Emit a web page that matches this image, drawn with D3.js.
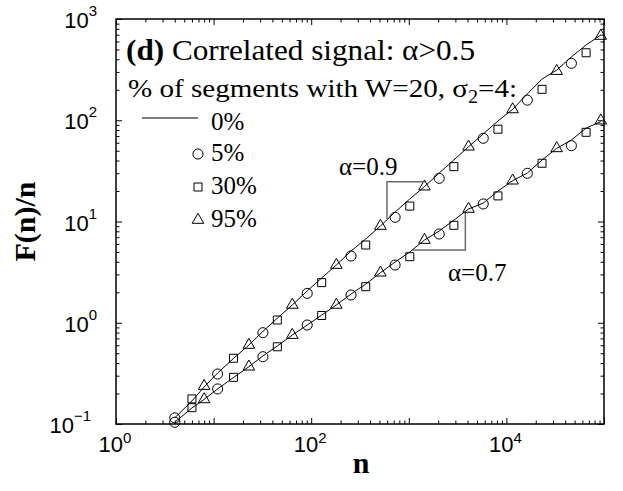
<!DOCTYPE html>
<html>
<head>
<meta charset="utf-8">
<script src="https://cdn.jsdelivr.net/npm/d3@7"></script>
<style>
	body { margin: 0; background: #fff; }
	svg { display: block; }
	.serif { font-family: "Liberation Serif", "Times New Roman", serif; }
	.sans { font-family: "Liberation Sans", Arial, sans-serif; }
</style>
</head>
<body>
<svg id="chart" width="623" height="491"></svg>
<script>
// window sizes n (2^(k/2)), shared by the 0% lines
const N_LINE = [4, 6, 8, 11, 16, 23, 32, 45, 64, 91, 128, 181, 256, 362, 512, 724, 1024, 1448, 2048, 2896, 4096, 5793, 8192, 11585, 16384, 23170, 32768, 46341, 65536, 92682];
// 0% curves
const LINE_09 = [0.115, 0.169, 0.232, 0.319, 0.444, 0.603, 0.82, 1.11, 1.5, 2.06, 2.77, 3.72, 5.11, 6.72, 9.03, 12.4, 16.7, 22.1, 30.1, 40.5, 54.8, 73.2, 98.4, 128, 182, 255, 313, 422, 554, 695];
const LINE_07 = [0.104, 0.144, 0.175, 0.222, 0.288, 0.368, 0.47, 0.589, 0.756, 0.95, 1.19, 1.5, 1.92, 2.41, 3.12, 3.98, 5.0, 6.56, 8.05, 10.3, 13.3, 15.2, 20.0, 25.3, 30.1, 40.5, 52.8, 63.8, 83.7, 96.8];

// 5% (circles)
const N_5 = [4, 11, 32, 91, 256, 724, 2048, 5793, 16384, 46341];
const HI_5 = [0.115, 0.312, 0.798, 1.95, 4.56, 11.0, 26.7, 66.4, 158, 365];
const LO_5 = [0.104, 0.222, 0.462, 0.95, 1.88, 3.72, 7.53, 14.9, 29.9, 56.1];
// 30% (squares)
const N_30 = [6, 16, 45, 128, 362, 1024, 2896, 8192, 23170, 65536];
const HI_30 = [0.177, 0.446, 1.065, 2.49, 5.86, 14.2, 34.8, 81.5, 202, 464];
const LO_30 = [0.145, 0.289, 0.579, 1.18, 2.27, 4.49, 9.17, 17.9, 37.6, 76.0];
// 95% (triangles)
const N_95 = [8, 23, 64, 181, 512, 1448, 4096, 11585, 32768, 92682];
const HI_95 = [0.237, 0.603, 1.5, 3.72, 9.03, 22.1, 54.8, 128, 306, 680];
const LO_95 = [0.175, 0.368, 0.756, 1.5, 3.12, 6.56, 13.3, 25.3, 52.8, 99.1];

const LEGEND = ['0%', '5%', '30%', '95%'];
const X_LABEL_EXP = [0, 2, 4];
const Y_LABEL_EXP = [-1, 0, 1, 2, 3];

// slope guides: [n, F/n] corners
const SLOPE_09 = [[598, 10.6], [598, 24.7], [1476, 24.7]];
const SLOPE_07 = [[1079, 5.22], [3796, 5.22], [3796, 12.1]];

const $svg = d3.select('#chart');
const x = d3.scaleLog().domain([1, 1e5]).range([116, 604]);
const y = d3.scaleLog().domain([0.1, 1000]).range([424, 19]);

const symCircle = d3.symbol(d3.symbolCircle, 80)();
const symSquare = d3.symbol(d3.symbolSquare, 64)();
const symTriangle = d3.symbol(d3.symbolTriangle, 58)();

const majorX = [1, 10, 100, 1e3, 1e4, 1e5];
const majorY = [0.1, 1, 10, 100, 1000];
const isMajor = v => Math.abs(Math.log10(v) - Math.round(Math.log10(v))) < 1e-9;

function drawTicks(axisFn, scale, values, size, pos) {
	const g = $svg.append('g')
		.attr('transform', pos)
		.call(axisFn(scale).tickValues(values).tickSize(size).tickSizeOuter(0).tickFormat(''));
	g.select('.domain').remove();
	g.selectAll('line').attr('stroke', '#000').attr('stroke-width', 1);
}

function renderAxes() {
	const minorX = x.ticks().filter(d => !isMajor(d));
	const minorY = y.ticks().filter(d => !isMajor(d));

	drawTicks(d3.axisBottom, x, majorX, -6, 'translate(0,424)');
	drawTicks(d3.axisBottom, x, minorX, -3.5, 'translate(0,424)');
	drawTicks(d3.axisTop, x, majorX, -6, 'translate(0,19)');
	drawTicks(d3.axisTop, x, minorX, -3.5, 'translate(0,19)');
	drawTicks(d3.axisLeft, y, majorY, -6, 'translate(116,0)');
	drawTicks(d3.axisLeft, y, minorY, -3.5, 'translate(116,0)');
	drawTicks(d3.axisRight, y, majorY, -6, 'translate(604,0)');
	drawTicks(d3.axisRight, y, minorY, -3.5, 'translate(604,0)');

	$svg.append('rect')
		.attr('x', 116).attr('y', 19)
		.attr('width', 488).attr('height', 405)
		.attr('fill', 'none').attr('stroke', '#000').attr('stroke-width', 1.5);

	// tick labels: 10 with superscript
	const fmtExp = e => (e < 0 ? '\u2212' + Math.abs(e) : String(e));

	const $xl = $svg.selectAll('text.xlab').data(X_LABEL_EXP).enter()
		.append('text').attr('class', 'xlab sans')
		.attr('x', e => x(Math.pow(10, e)) - 1)
		.attr('y', 452)
		.attr('text-anchor', 'middle')
		.attr('font-size', 22);
	$xl.append('tspan').text('10');
	$xl.append('tspan').attr('font-size', 15).attr('dy', -9).text(e => fmtExp(e));

	const $yl = $svg.selectAll('text.ylab').data(Y_LABEL_EXP).enter()
		.append('text').attr('class', 'ylab sans')
		.attr('x', e => (e < 0 ? 91 : 97))
		.attr('y', e => y(Math.pow(10, e)) + 9)
		.attr('text-anchor', 'end')
		.attr('font-size', 22);
	$yl.append('tspan').text('10');
	$yl.append('tspan').attr('font-size', 15).attr('dy', -12).text(e => fmtExp(e));

	$svg.append('text').attr('class', 'serif')
		.attr('x', 361).attr('y', 473)
		.attr('text-anchor', 'middle')
		.attr('font-size', 30).attr('font-weight', 'bold')
		.text('n');

	$svg.append('text').attr('class', 'serif')
		.attr('transform', 'translate(35,221.5) rotate(-90)')
		.attr('text-anchor', 'middle')
		.attr('font-size', 30).attr('font-weight', 'bold')
		.text('F(n)/n');
}

function renderCurves() {
	const line = d3.line().x(d => x(d[0])).y(d => y(d[1]));
	[LINE_09, LINE_07].forEach(vals => {
		$svg.append('path')
			.datum(N_LINE.map((n, i) => [n, vals[i]]))
			.attr('d', line)
			.attr('fill', 'none').attr('stroke', '#000').attr('stroke-width', 1);
	});

	const series = [
		{ n: N_5, v: HI_5, sym: symCircle },
		{ n: N_5, v: LO_5, sym: symCircle },
		{ n: N_30, v: HI_30, sym: symSquare },
		{ n: N_30, v: LO_30, sym: symSquare },
		{ n: N_95, v: HI_95, sym: symTriangle },
		{ n: N_95, v: LO_95, sym: symTriangle }
	];
	series.forEach(s => {
		$svg.append('g').selectAll('path')
			.data(s.n.map((n, i) => [n, s.v[i]]))
			.enter().append('path')
			.attr('d', s.sym)
			.attr('transform', d => `translate(${x(d[0])},${y(d[1])})`)
			.attr('fill', 'none').attr('stroke', '#000').attr('stroke-width', 1);
	});

	const guide = d3.line().x(d => x(d[0])).y(d => y(d[1]));
	[SLOPE_09, SLOPE_07].forEach(pts => {
		$svg.append('path')
			.attr('d', guide(pts))
			.attr('fill', 'none').attr('stroke', '#6a6a6a').attr('stroke-width', 1.5);
	});

	$svg.append('text').attr('class', 'serif')
		.attr('x', 339).attr('y', 175).attr('font-size', 25)
		.text('\u03b1=0.9');
	$svg.append('text').attr('class', 'serif')
		.attr('x', 448).attr('y', 281).attr('font-size', 25)
		.text('\u03b1=0.7');
}

function renderLegend() {
	const $t = $svg.append('text').attr('class', 'serif')
		.attr('x', 126).attr('y', 60).attr('font-size', 29)
		.attr('textLength', 349).attr('lengthAdjust', 'spacingAndGlyphs');
	$t.append('tspan').attr('font-weight', 'bold').text('(d)');
	$t.append('tspan').text(' Correlated signal: \u03b1>0.5');

	const $s = $svg.append('text').attr('class', 'serif')
		.attr('x', 128).attr('y', 97).attr('font-size', 26)
		.attr('textLength', 389).attr('lengthAdjust', 'spacingAndGlyphs');
	$s.append('tspan').text('% of segments with W=20, \u03c3');
	$s.append('tspan').attr('font-size', 18).attr('dy', 6).text('2');
	$s.append('tspan').attr('dy', -6).text('=4:');

	const rowsY = [130, 161, 194, 227];
	const syms = [null, symCircle, symSquare, symTriangle];
	LEGEND.forEach((lab, i) => {
		if (i === 0) {
			$svg.append('line')
				.attr('x1', 142).attr('x2', 198)
				.attr('y1', rowsY[i] - 12).attr('y2', rowsY[i] - 12)
				.attr('stroke', '#000').attr('stroke-width', 1);
		} else {
			$svg.append('path')
				.attr('d', syms[i])
				.attr('transform', `translate(198,${rowsY[i] - 7})`)
				.attr('fill', 'none').attr('stroke', '#000').attr('stroke-width', 1);
		}
		$svg.append('text').attr('class', 'serif')
			.attr('x', 211).attr('y', rowsY[i]).attr('font-size', 25)
			.text(lab);
	});
}

renderAxes();
renderCurves();
renderLegend();
</script>
</body>
</html>
